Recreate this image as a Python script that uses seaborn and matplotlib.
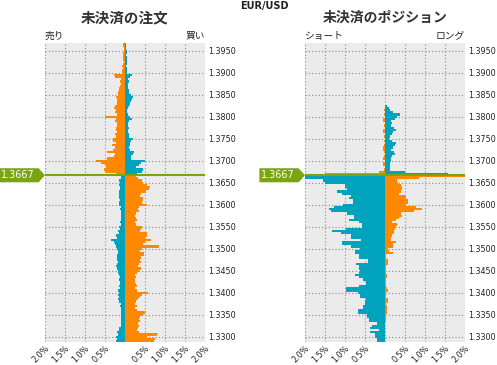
import numpy as np
import pandas as pd
import matplotlib
matplotlib.use("Agg")
import matplotlib.pyplot as plt
import seaborn as sns
from matplotlib.patches import Polygon

# ---------------- data ----------------
# price levels (bin centres, 0.0005 wide); "above" from top down, "below" from line down
prices_above = [round(1.3965 - 0.0005 * i, 4) for i in range(60)]
prices_below = [round(1.3665 - 0.0005 * j, 4) for j in range(76)]
current_price = 1.3667

# Open orders (%)
orders_sell_above = [0.06, 0.05, 0.03, 0.03, 0.05, 0.05, 0.04, 0.05, 0.03, 0.04,
                     0.07, 0.06, 0.07, 0.08, 0.27, 0.26, 0.10, 0.12, 0.11, 0.13,
                     0.15, 0.14, 0.17, 0.18, 0.22, 0.20, 0.21, 0.19, 0.26, 0.28,
                     0.23, 0.25, 0.21, 0.50, 0.22, 0.24, 0.20, 0.21, 0.23, 0.22,
                     0.20, 0.24, 0.22, 0.30, 0.29, 0.22, 0.33, 0.24, 0.30, 0.44,
                     0.25, 0.27, 0.45, 0.73, 0.60, 0.50, 0.48, 0.52, 0.50, 0.22]
orders_buy_above = [0.02, 0.03, 0.02, 0.04, 0.04, 0.03, 0.05, 0.04, 0.04, 0.05,
                    0.03, 0.04, 0.05, 0.06, 0.17, 0.12, 0.07, 0.09, 0.08, 0.07,
                    0.08, 0.11, 0.09, 0.15, 0.19, 0.17, 0.14, 0.12, 0.10, 0.07,
                    0.06, 0.05, 0.07, 0.12, 0.18, 0.10, 0.08, 0.07, 0.09, 0.08,
                    0.07, 0.09, 0.10, 0.20, 0.16, 0.12, 0.13, 0.11, 0.12, 0.22,
                    0.20, 0.15, 0.14, 0.49, 0.40, 0.35, 0.28, 0.45, 0.42, 0.30]
orders_sell_below = [0.09, 0.10, 0.14, 0.13, 0.15, 0.12, 0.13, 0.15, 0.14, 0.16,
                     0.15, 0.13, 0.15, 0.14, 0.11, 0.12, 0.10, 0.11, 0.09, 0.11,
                     0.10, 0.12, 0.11, 0.14, 0.13, 0.17, 0.15, 0.22, 0.20, 0.35,
                     0.28, 0.25, 0.22, 0.21, 0.18, 0.17, 0.19, 0.20, 0.21, 0.18,
                     0.20, 0.22, 0.19, 0.17, 0.18, 0.15, 0.13, 0.14, 0.12, 0.13,
                     0.14, 0.12, 0.17, 0.16, 0.18, 0.15, 0.17, 0.16, 0.11, 0.12,
                     0.10, 0.10, 0.09, 0.11, 0.10, 0.09, 0.10, 0.11, 0.10, 0.15,
                     0.16, 0.19, 0.18, 0.22, 0.20, 0.22]
orders_buy_below = [0.28, 0.32, 0.42, 0.45, 0.55, 0.62, 0.60, 0.52, 0.40, 0.38,
                    0.45, 0.44, 0.42, 0.54, 0.35, 0.33, 0.36, 0.27, 0.25, 0.28,
                    0.30, 0.26, 0.28, 0.43, 0.40, 0.37, 0.56, 0.55, 0.50, 0.64,
                    0.50, 0.45, 0.85, 0.42, 0.38, 0.48, 0.47, 0.40, 0.38, 0.41,
                    0.35, 0.33, 0.40, 0.36, 0.30, 0.25, 0.27, 0.24, 0.26, 0.27,
                    0.30, 0.25, 0.29, 0.58, 0.42, 0.38, 0.33, 0.27, 0.26, 0.31,
                    0.24, 0.30, 0.49, 0.45, 0.37, 0.35, 0.38, 0.33, 0.36, 0.32,
                    0.30, 0.35, 0.80, 0.55, 0.75, 0.72]

# Open positions (%)
pos_short_above = [0] * 30 + [0.03, 0, 0.03, 0, 0.06, 0.04, 0, 0.03, 0, 0.04,
                              0.04, 0, 0.03, 0, 0.02, 0, 0.03, 0.04, 0.04, 0.03,
                              0, 0.02, 0.04, 0, 0.04, 0.04, 0, 0.03, 0.14, 1.50]
pos_long_above = [0] * 28 + [0.05, 0.09, 0.13, 0.20, 0.37, 0.30, 0.24, 0.16, 0.18, 0.16,
                             0.23, 0.28, 0.20, 0.18, 0.13, 0.10, 0.18, 0.28, 0.26, 0.20,
                             0.16, 0.23, 0.26, 0.18, 0.16, 0.14, 0.13, 0.12, 0.13, 0.12,
                             0.51, 1.58]
pos_short_below = [2.20, 2.10, 1.55, 1.50, 1.00, 1.00, 0.94, 1.19, 1.07, 0.85,
                   0.90, 0.80, 0.80, 1.05, 1.27, 1.40, 1.36, 0.94, 0.78, 0.78,
                   0.90, 0.65, 0.58, 0.58, 0.98, 1.32, 1.10, 0.86, 0.85, 0.60,
                   1.08, 1.08, 0.86, 0.63, 0.75, 0.75, 0.65, 0.65, 0.43, 0.43,
                   0.72, 0.65, 0.65, 0.63, 0.65, 0.75, 0.65, 0.55, 0.47, 0.47,
                   0.65, 0.97, 0.97, 0.67, 0.62, 0.62, 0.48, 0.50, 0.50, 0.55,
                   0.55, 0.67, 0.67, 0.45, 0.45, 0.40, 0.40, 0.19, 0.32, 0.38,
                   0.15, 0.38, 0.25, 0.25, 0.20, 0.20]
pos_long_below = [2.20, 0.85, 0.31, 0.33, 0.39, 0.42, 0.43, 0.39, 0.35, 0.52,
                  0.52, 0.58, 0.58, 0.52, 0.77, 0.92, 0.73, 0.39, 0.42, 0.35,
                  0.27, 0.18, 0.30, 0.28, 0.26, 0.22, 0.22, 0.17, 0.16, 0.14,
                  0.27, 0.20, 0.20, 0.07, 0.10, 0.20, 0.02, 0.02, 0.07, 0.07,
                  0.07, 0.02, 0.02, 0.03, 0.03, 0.05, 0.05, 0.03, 0.03, 0.02,
                  0.02, 0.05, 0.07, 0.02, 0.02, 0.02, 0.07, 0.07, 0.02, 0.04,
                  0.04, 0.05, 0.05, 0.02, 0.02, 0.03, 0.02, 0, 0, 0,
                  0, 0, 0, 0, 0, 0]

price_ticks = [1.3300, 1.3350, 1.3400, 1.3450, 1.3500, 1.3550, 1.3600, 1.3650,
               1.3700, 1.3750, 1.3800, 1.3850, 1.3900, 1.3950]
pct_ticks = [-2.0, -1.5, -1.0, -0.5, 0.0, 0.5, 1.0, 1.5, 2.0]
pct_labels = ["2.0%", "1.5%", "1.0%", "0.5%", "", "0.5%", "1.0%", "1.5%", "2.0%"]

ORANGE = "#FF8800"
TEAL = "#00A3BD"
GREEN = "#7AA510"

# ---------------- style ----------------
sns.set_style("white", {"axes.facecolor": "#EBEBEB"})
plt.rcParams["font.family"] = ["Noto Sans CJK JP", "DejaVu Sans"]

W, H = 497, 365
fig = plt.figure(figsize=(W / 100, H / 100), dpi=100)
ax_l = fig.add_axes([45 / W, 1 - 342.3 / H, 160 / W, 299.3 / H])
ax_r = fig.add_axes([305 / W, 1 - 342.3 / H, 160 / W, 299.3 / H])


def draw_bars(ax, values, prices, color, side):
    df = pd.DataFrame({"pct": np.array(values, dtype=float) * side, "price": prices})
    sns.barplot(data=df, x="pct", y="price", orient="h", native_scale=True,
                width=1.0, color=color, saturation=1, linewidth=0,
                errorbar=None, ax=ax, antialiased=False, zorder=2)


draw_bars(ax_l, orders_sell_above, prices_above, ORANGE, -1)
draw_bars(ax_l, orders_buy_above, prices_above, TEAL, 1)
draw_bars(ax_l, orders_sell_below, prices_below, TEAL, -1)
draw_bars(ax_l, orders_buy_below, prices_below, ORANGE, 1)

draw_bars(ax_r, pos_short_above, prices_above, ORANGE, -1)
draw_bars(ax_r, pos_long_above, prices_above, TEAL, 1)
draw_bars(ax_r, pos_short_below, prices_below, TEAL, -1)
draw_bars(ax_r, pos_long_below, prices_below, ORANGE, 1)

for ax in (ax_l, ax_r):
    ax.set_xlim(-2, 2)
    ax.set_ylim(1.32875, 1.39675)
    ax.set_xticks(pct_ticks)
    ax.set_xticklabels(pct_labels, rotation=45, ha="right", rotation_mode="anchor",
                       family="DejaVu Sans", fontsize=5.8, color="#222222")
    ax.set_yticks(price_ticks)
    ax.set_yticklabels([f"{p:.4f}" for p in price_ticks], family="DejaVu Sans",
                       fontsize=5.8, color="#222222")
    ax.yaxis.tick_right()
    ax.tick_params(axis="both", length=0)
    ax.tick_params(axis="y", pad=2.5)
    ax.tick_params(axis="x", pad=1)
    ax.set_xlabel("")
    ax.set_ylabel("")
    for s in ax.spines.values():
        s.set_visible(False)
    ax.grid(True, linestyle=(0, (1, 2)), color="#8A8A8A", linewidth=0.8)
    ax.set_axisbelow(True)
    ax.axhline(current_price, color=GREEN, lw=1.5, zorder=5)
    # price marker
    tr = ax.get_yaxis_transform()
    hh = 0.0016
    poly = Polygon([(-0.285, current_price - hh), (-0.04, current_price - hh),
                    (0.0, current_price), (-0.04, current_price + hh),
                    (-0.285, current_price + hh)], closed=True, transform=tr,
                   facecolor=GREEN, edgecolor="none", clip_on=False, zorder=6)
    ax.add_patch(poly)
    ax.text(-0.172, current_price, f"{current_price:.4f}", transform=tr, color="white",
            fontsize=7, ha="center", va="center", family="DejaVu Sans", zorder=7)

ax_l.text(0, 1.008, "売り", transform=ax_l.transAxes, ha="left", va="bottom",
          fontsize=7, color="#222222")
ax_l.text(1, 1.008, "買い", transform=ax_l.transAxes, ha="right", va="bottom",
          fontsize=7, color="#222222")
ax_r.text(0, 1.008, "ショート", transform=ax_r.transAxes, ha="left", va="bottom",
          fontsize=7, color="#222222")
ax_r.text(1, 1.008, "ロング", transform=ax_r.transAxes, ha="right", va="bottom",
          fontsize=7, color="#222222")

fig.text(125 / W, 1 - 17.5 / H, "未決済の注文", ha="center", va="center",
         fontsize=10.5, fontweight="bold", color="#333333")
fig.text(385 / W, 1 - 17.5 / H, "未決済のポジション", ha="center", va="center",
         fontsize=10, fontweight="bold", color="#333333")
fig.text(264 / W, 1 - 6 / H, "EUR/USD", ha="center", va="center",
         fontsize=7, fontweight="bold", color="#222222", family="DejaVu Sans")

fig.savefig("out.png", dpi=100)
